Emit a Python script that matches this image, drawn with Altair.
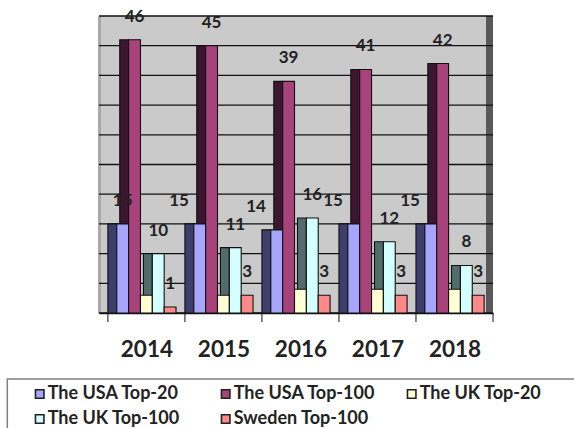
import altair as alt
import pandas as pd

# ---- data ----
years = ["2014", "2015", "2016", "2017", "2018"]
series = ["The USA Top-20", "The USA Top-100", "The UK Top-20", "The UK Top-100", "Sweden Top-100"]
usa_top20 = [15, 15, 14, 15, 15]
usa_top100 = [46, 45, 39, 41, 42]
uk_top20 = [3, 3, 4, 4, 4]
uk_top100 = [10, 11, 16, 12, 8]
sweden_top100 = [1, 3, 3, 3, 3]
series_labelled = [True, True, False, True, True]
grid_values = [0, 5, 10, 15, 20, 25, 30, 35, 40, 45, 50]

# ---- styling ----
face_colors = ["#A6A6FF", "#A8427A", "#FFFFD4", "#D4FFFF", "#FF8888"]
side_colors = ["#3E3E6E", "#3C1630", "#8C8C6A", "#526B6B", "#8C4A4A"]
W, H = 394, 297
GROUP, SIDE, FACE = 26, 3, 4
FONT = "Lato"

all_values = [usa_top20, usa_top100, uk_top20, uk_top100, sweden_top100]
rows = []
for yi, yr in enumerate(years):
    for si, name in enumerate(series):
        rows.append({"year": yr, "yi": yi, "series": name, "si": si,
                     "value": all_values[si][yi], "labelled": series_labelled[si]})
df = pd.DataFrame(rows)

xs = alt.Scale(domain=[-SIDE, GROUP * len(years)], nice=False, zero=False)
ys = alt.Scale(domain=[0, 50], nice=False)

base = alt.Chart(df).transform_calculate(
    f0=f"datum.yi * {GROUP} + {SIDE} + {FACE} * datum.si",
).transform_calculate(
    f1=f"datum.f0 + {FACE}",
    s0=f"datum.f0 - {SIDE}",
    lx=f"datum.f0 + {FACE / 2} - ((datum.si == 0 && datum.yi > 0) ? 7 : 0)",
)

centers = [i * GROUP + GROUP / 2 for i in range(len(years))]
label_expr = "[" + ",".join(f"'{y}'" for y in years) + f"][round((datum.value - {GROUP / 2}) / {GROUP})]"

x_axis = alt.Axis(values=centers, labelExpr=label_expr, ticks=False, tickSize=0, grid=False,
                  domainColor="#111111", domainWidth=1.5,
                  labelFont=FONT, labelFontSize=22.5, labelFontWeight="bold",
                  labelColor="#222222", labelPadding=36, labelBaseline="middle")
y_axis = alt.Axis(labels=False, ticks=False, grid=False, domainColor="#A8A8A8", domainWidth=3)

# right dark wall strip
strip = alt.Chart(alt.Data(values=[{}])).mark_rect(color="#585858").encode(
    x=alt.value(W - 7), x2=alt.value("width"), y=alt.value(0), y2=alt.value("height")
)

grid = alt.Chart(pd.DataFrame({"g": grid_values})).mark_rule(color="#111111", strokeWidth=1.3).encode(
    y=alt.Y("g:Q", scale=ys, title=None, axis=y_axis), x=alt.value(0), x2=alt.value("width")
)

ticks = alt.Chart(pd.DataFrame({"b": [i * GROUP for i in range(len(years) + 1)]})).mark_rule(
    color="#111111", strokeWidth=1
).encode(x=alt.X("b:Q", scale=xs, title=None, axis=x_axis), y=alt.value(H), y2=alt.value(H + 9))

sides = base.mark_rect(stroke="#111111", strokeWidth=1.1).encode(
    x=alt.X("s0:Q", scale=xs, title=None),
    x2="f0:Q",
    y=alt.Y("value:Q", scale=ys, title=None),
    y2=alt.datum(0),
    color=alt.Color("series:N", scale=alt.Scale(domain=series, range=side_colors), legend=None),
)

faces = base.mark_rect(stroke="#111111", strokeWidth=1.1).encode(
    x=alt.X("f0:Q", scale=xs, title=None),
    x2="f1:Q",
    y=alt.Y("value:Q", scale=ys, title=None),
    y2=alt.datum(0),
    color=alt.Color("series:N", scale=alt.Scale(domain=series, range=face_colors),
                    legend=alt.Legend(orient="none", legendX=-68.3, legendY=369, title=None,
                                      direction="horizontal", columns=3, gridAlign="all",
                                      columnPadding=27, rowPadding=7,
                                      symbolType="square", symbolSize=72, symbolStrokeColor="#222222",
                                      symbolStrokeWidth=1.6, labelFont=FONT, labelFontSize=18,
                                      labelFontWeight="bold", labelColor="#222222",
                                      labelOffset={"expr": "-1"},
                                      labelLimit=300)),
)

labels = base.transform_filter("datum.labelled").mark_text(
    font=FONT, fontSize=17, fontWeight="bold", color="#222222", baseline="middle", dy=-23
).encode(
    x=alt.X("lx:Q", scale=xs, title=None),
    y=alt.Y("value:Q", scale=ys, title=None),
    text="value:Q",
)

legend_box = alt.Chart(alt.Data(values=[{}])).mark_rect(
    fill="transparent", stroke="#808080", strokeWidth=1.5
).encode(x=alt.value(-91.7), x2=alt.value(490), y=alt.value(363), y2=alt.value(480))

chart = alt.layer(strip, grid, ticks, sides, faces, labels, legend_box).resolve_scale(
    color="independent"
).properties(
    width=W, height=H,
    autosize=alt.AutoSizeParams(type="none"),
    padding={"left": 99, "top": 16, "right": 81, "bottom": 115},
    background="white",
).configure_view(fill="#CACACA", strokeWidth=0)

chart.save("out.html", embed_options={"renderer": "svg", "actions": False})
